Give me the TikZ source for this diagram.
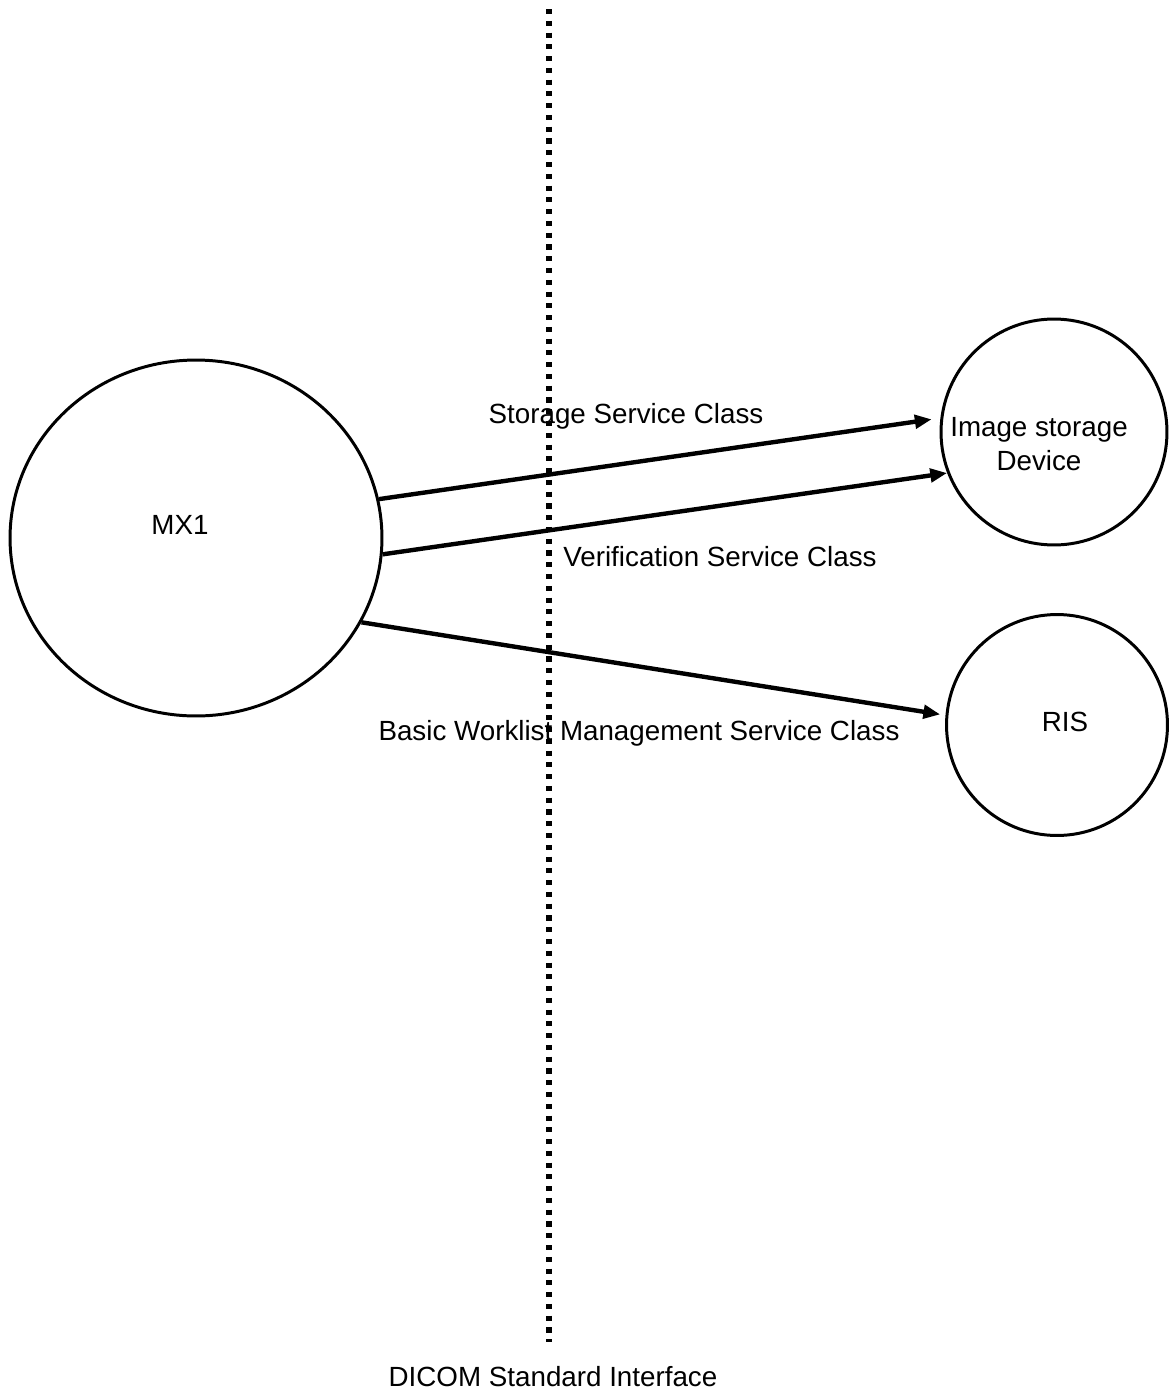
\documentclass[tikz,border=0pt]{standalone}
\usepackage{fontspec}
\setmainfont{Liberation Sans}
\usetikzlibrary{shapes.geometric,arrows.meta}

\begin{document}
\begin{tikzpicture}[x=0.02cm,y=-0.02cm,
    system/.style={draw,circle,line width=1.7pt,inner sep=0pt},
    link/.style={line width=2.5pt,-{Triangle[length=9.6pt,width=7.6pt]}},
    txt/.style={font=\fontsize{15.8}{19}\selectfont,align=center,inner sep=0pt}]
    \useasboundingbox (0,0) rectangle (1169,1393);
    % systems
    \node[system,ellipse,minimum width=7.44cm,minimum height=7.12cm] (mx1) at (196,538) {};
    \node[system,minimum size=4.52cm] (dev) at (1054,432) {};
    \node[system,minimum size=4.42cm] (ris) at (1057,725) {};
    \node[txt] (mx1lbl) at (180,525) {MX1};
    \node[txt] (devlbl) at (1039,444) {Image storage\\Device};
    \node[txt] (rislbl) at (1065,722) {RIS};
    % interface boundary
    \coordinate (top) at (549,9);
    \coordinate (bot) at (549,1342);
    \draw[line width=3pt,dash pattern=on 2.9pt off 3.8pt] (top)--(bot);
    \node[txt] (dicom) at (553,1377) {DICOM Standard Interface};
    % services
    \draw[link,shorten >=5pt] (mx1.12.6)--(dev.173);
    \draw[link] (mx1.-5.7)--(dev.201.6);
    \draw[link,shorten >=3pt] (mx1.-27)--(ris.175.6);
    \node[txt] (stor) at (626,416) {Storage Service Class};
    \node[txt] (verif) at (720,557) {Verification Service Class};
    \node[txt] (wl) at (639,733) {Basic Worklist Management Service Class};
\end{tikzpicture}
\end{document}
